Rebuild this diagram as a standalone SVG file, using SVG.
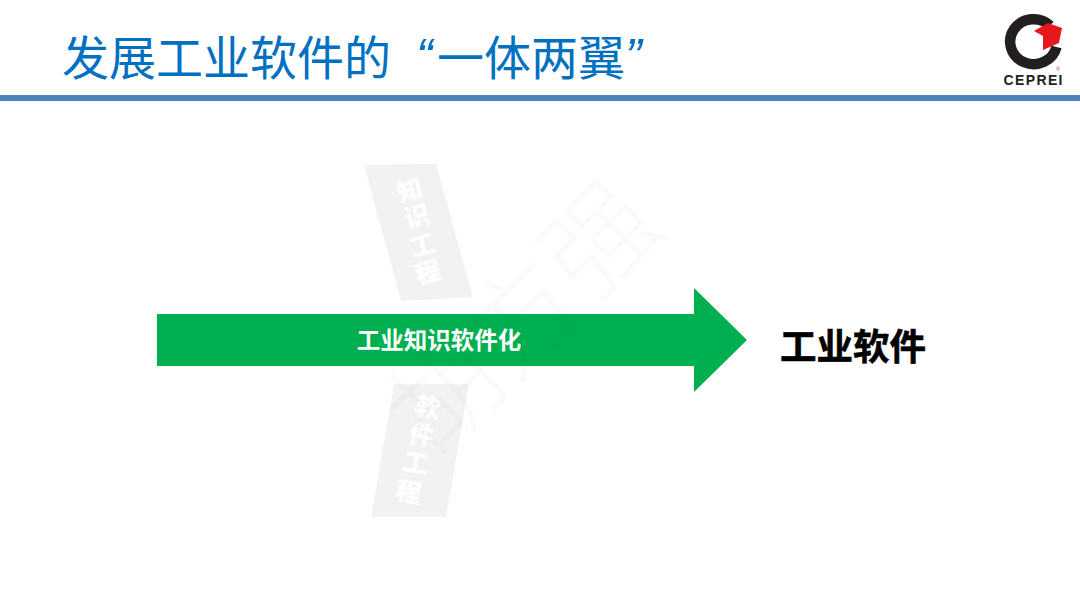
<svg xmlns="http://www.w3.org/2000/svg" width="1080" height="608" viewBox="0 0 1080 608">
<style>
.cjk{font-family:"Liberation Sans","Noto Sans CJK SC",sans-serif}
.wing{fill:#f2f2f2}
.wt{fill:#fff;font-size:25px;font-weight:700;text-anchor:middle;stroke:#fff;stroke-width:.5}
.ttl{font-size:47px;fill:#0070c0}
.q{font-family:"Liberation Sans",sans-serif;font-style:italic;font-size:50px;fill:#0070c0}
</style>
<rect width="1080" height="608" fill="#fff"/>
<g id="title">
<text class="cjk ttl" x="62" y="75">发展工业软件的</text>
<text class="q" x="416" y="74">“</text>
<text class="cjk ttl" x="437" y="75">一体两翼</text>
<text class="q" x="625" y="74" font-size="44">”</text>
</g>
<rect x="0" y="95" width="1080" height="6" fill="#4f81bd"/>
<g id="logo">
<path d="M1050 25.500A23.500 22.500 0 1 0 1056.500 47" fill="none" stroke="#231f20" stroke-width="10.500"/>
<polygon points="1034,31 1048,23 1062,28 1059,43 1043,50 1043,36" fill="#e8171f"/>
<text class="cjk" x="1033" y="85" font-size="14" font-weight="700" fill="#231f20" text-anchor="middle" textLength="59">CEPREI</text>
<text class="cjk" x="1058" y="71" font-size="5" fill="#c0392b" text-anchor="middle">®</text>
</g>
<g id="wing-top">
<polygon class="wing" points="364,165 436,164 473,297 401,301"/>
<g class="cjk wt">
<text transform="translate(412,199) rotate(-15)">知</text>
<text transform="translate(419,225) rotate(-15)">识</text>
<text transform="translate(425,254) rotate(-15)">工</text>
<text transform="translate(430,281) rotate(-15)">程</text>
</g>
</g>
<g id="wing-bottom">
<polygon class="wing" points="394,384 469,384 446,517 371,517"/>
<g class="cjk wt">
<text transform="translate(426,416) rotate(10)">软</text>
<text transform="translate(420,444) rotate(10)">件</text>
<text transform="translate(414,472) rotate(10)">工</text>
<text transform="translate(407,501) rotate(10)">程</text>
</g>
</g>
<g id="connectors">
<polygon id="arrow" points="157,314 694,314 694,288 747,340 694,392 694,366 157,366" fill="#00b050"/>
</g>
<text id="arrow-label" class="cjk" x="439" y="349" font-size="23.500" font-weight="700" fill="#fff" text-anchor="middle">工业知识软件化</text>
<g id="node-software">
<text class="cjk" x="853" y="360" font-size="36.500" font-weight="700" fill="#000" stroke="#000" stroke-width=".6" text-anchor="middle">工业软件</text>
</g>
<g id="watermark" class="cjk" fill="#000" fill-opacity=".018">
<text transform="translate(434,462) rotate(-45)" font-size="110" font-weight="300">胡方强</text>
<text transform="translate(664,208) rotate(-45)" font-size="26" font-weight="300">电报</text>
</g>
</svg>
